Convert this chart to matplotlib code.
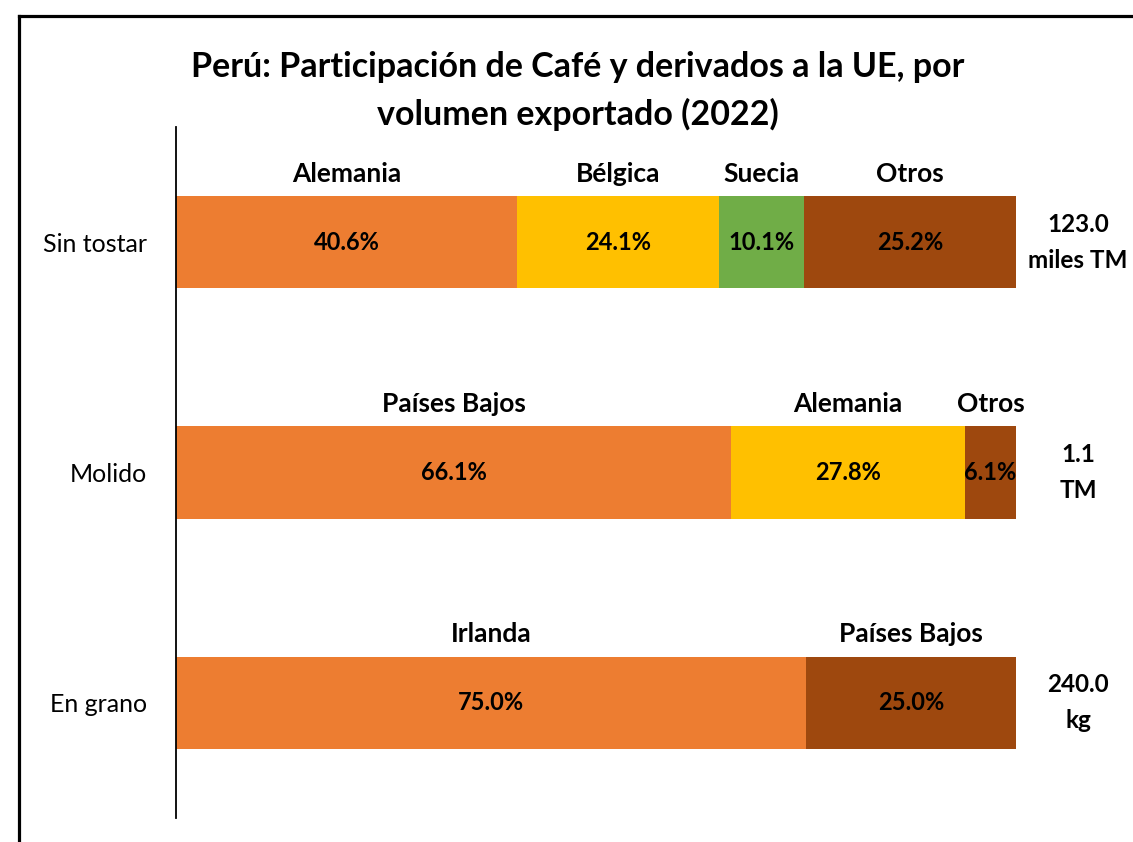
import matplotlib.pyplot as plt
from matplotlib.lines import Line2D

plt.rcParams['font.family'] = ['Lato', 'DejaVu Sans']

categorias = ['Sin tostar', 'Molido', 'En grano']
paises = [
    ['Alemania', 'Bélgica', 'Suecia', 'Otros'],
    ['Países Bajos', 'Alemania', 'Otros'],
    ['Irlanda', 'Países Bajos'],
]
shares = [
    [40.6, 24.1, 10.1, 25.2],
    [66.1, 27.8, 6.1],
    [75.0, 25.0],
]
colores = [
    ['#ED7D31', '#FFC000', '#70AD47', '#9E480E'],
    ['#ED7D31', '#FFC000', '#9E480E'],
    ['#ED7D31', '#9E480E'],
]
totales = ['123.0\nmiles TM', '1.1\nTM', '240.0\nkg']

W, H = 1133, 842
fig = plt.figure(figsize=(W / 100, H / 100), dpi=100)
ax = fig.add_axes([176 / W, 1 - 818 / H, (1016 - 176) / W, (818 - 127) / H])

bar_h = 0.4
for i, cat in enumerate(categorias):
    left = 0
    for p, v, c in zip(paises[i], shares[i], colores[i]):
        ax.barh(i, v, left=left, height=bar_h, color=c, edgecolor='none')
        mid = left + v / 2
        ax.text(mid, i, f'{v:.1f}%', ha='center', va='center',
                fontsize=17, fontweight='bold', color='black')
        ax.text(mid, i - bar_h / 2 - 0.045, p, ha='center', va='bottom',
                fontsize=19, fontweight='bold', color='black')
        left += v
    ax.text(107.4, i, totales[i], ha='center', va='center', fontsize=17.5,
            fontweight='bold', color='black', linespacing=1.7)

ax.set_xlim(0, 100)
ax.set_ylim(2.5, -0.5)
ax.set_yticks(range(len(categorias)))
ax.set_yticklabels(categorias, fontsize=18)
ax.tick_params(axis='y', length=0, pad=21)
ax.set_xticks([])
for s in ['top', 'right', 'bottom']:
    ax.spines[s].set_visible(False)
ax.spines['left'].set_linewidth(1.3)
ax.patch.set_alpha(0)

fig.text(578 / W, 1 - 91 / H,
         'Perú: Participación de Café y derivados a la UE, por\nvolumen exportado (2022)',
         ha='center', va='center', fontsize=24.5, fontweight='bold', linespacing=1.55)

# marco exterior
fig.add_artist(Line2D([19 / W, 19 / W], [1 - 16 / H, 0], transform=fig.transFigure,
                      color='black', lw=2.3))
fig.add_artist(Line2D([19 / W, 1], [1 - 16 / H, 1 - 16 / H], transform=fig.transFigure,
                      color='black', lw=2.3))

fig.savefig('out.png', dpi=100)
